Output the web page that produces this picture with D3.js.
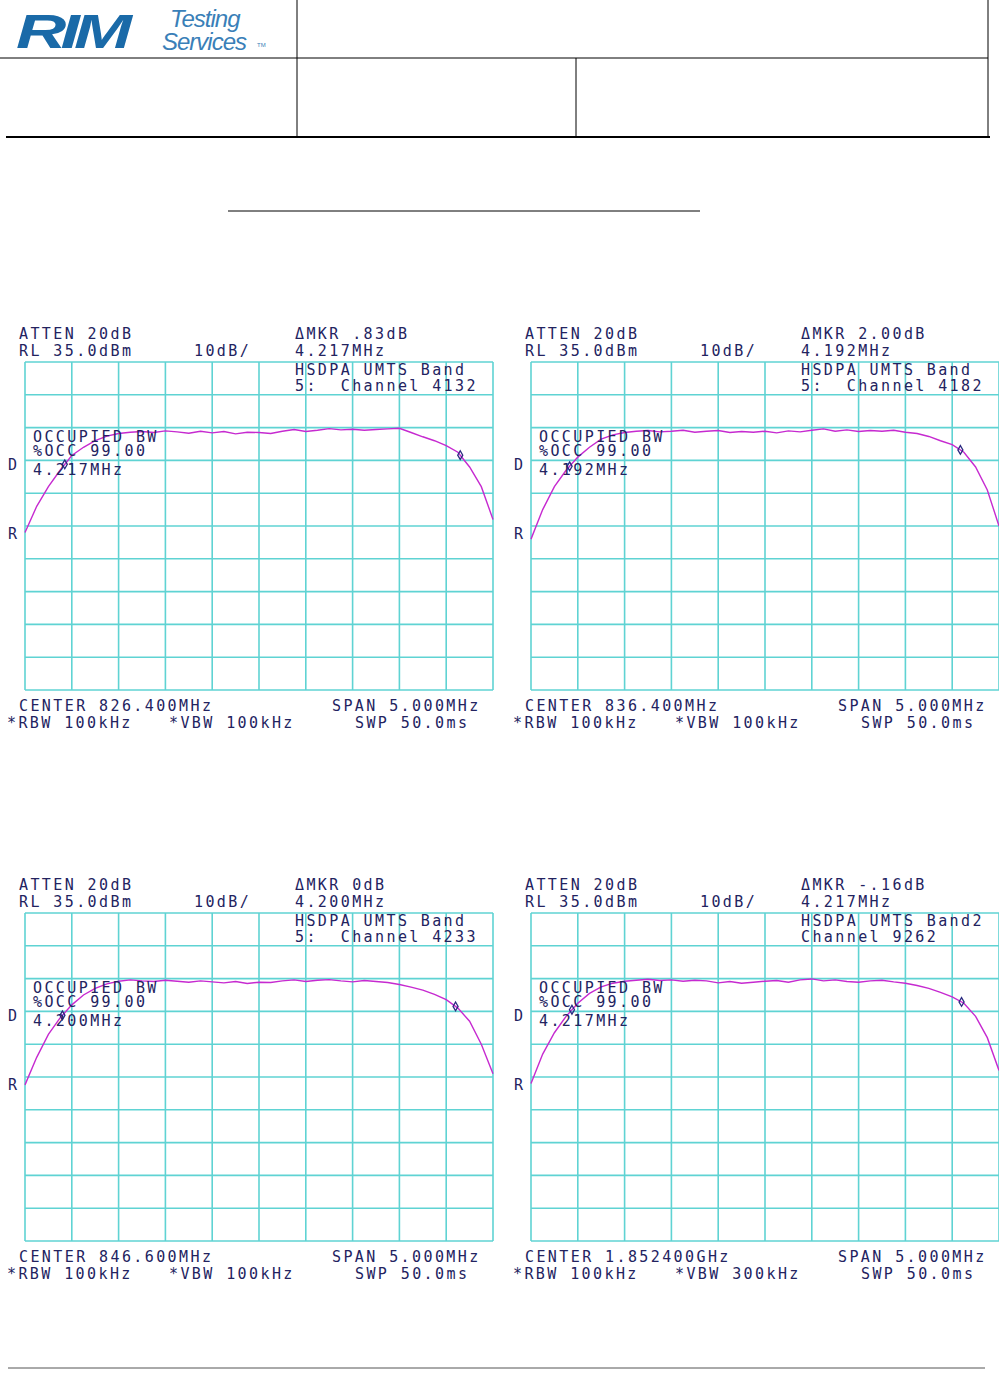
<!DOCTYPE html>
<html><head><meta charset="utf-8">
<script src="https://d3js.org/d3.v7.min.js"></script>
<style>body{margin:0;background:#fff}</style>
</head><body>
<svg width="999" height="1393"></svg>
<script>
// trace levels in dBm, sampled every quarter division across the 5 MHz span
var trace1 = [-17,-9,-3,2,6.5,9,11,12.4,13.2,13.6,13.8,13.5,14,13.7,13.3,13.9,13.4,13.8,13.1,13.6,13.5,13.2,13.9,14.4,13.8,14.2,14.7,14.3,14.5,14.2,14.4,14.6,14.8,13.5,12.2,11,9.5,7.5,3,-3,-13];
var trace2 = [-19,-10,-3,2,6,9,11.5,12.8,13.5,13.9,14.1,13.7,13.9,14.2,13.6,13.9,14.1,13.5,13.8,13.6,13.9,13.4,14,13.7,14.2,14.6,13.9,14.3,13.8,14.1,13.9,14.2,13.6,13.2,12.3,11,9.8,7.5,3,-4,-15];
var trace3 = [-17.4,-9,-2,3,7,10,12,13.4,14.2,14.6,14.3,14.1,14.5,14.2,13.9,14.3,14,13.7,14.1,13.5,13.9,13.8,14.3,14.6,14.1,14.5,14.7,14.3,14,14.4,14.1,13.8,13.2,12.4,11.5,10.2,8.6,6,2,-5,-14];
var trace4 = [-17,-8,-1.5,3.5,7.5,10.5,12.5,13.6,14.2,14.5,14.8,14.4,14.6,14.2,14.5,14.3,13.7,14.1,13.6,13.9,14.2,14.4,13.9,14.6,14.9,14.3,14.6,14.1,13.9,14.3,14.5,14,13.6,12.9,12,10.8,9.4,7.5,3.5,-3,-13];
var markers = [[3.4,37.2],[3.3,36.7],[3.2,36.8],[3.5,36.8]];

var centers = ["CENTER 826.400MHz","CENTER 836.400MHz","CENTER 846.600MHz","CENTER 1.852400GHz"];
var mkrDb = ["\u0394MKR .83dB","\u0394MKR 2.00dB","\u0394MKR 0dB","\u0394MKR -.16dB"];
var mkrHz = ["4.217MHz","4.192MHz","4.200MHz","4.217MHz"];
var obw = ["4.217MHz","4.192MHz","4.200MHz","4.217MHz"];
var label1 = ["HSDPA UMTS Band","HSDPA UMTS Band","HSDPA UMTS Band","HSDPA UMTS Band2"];
var label2 = ["5:  Channel 4132","5:  Channel 4182","5:  Channel 4233","Channel 9262"];
var vbw = ["*VBW 100kHz","*VBW 100kHz","*VBW 100kHz","*VBW 300kHz"];
var traces = [trace1, trace2, trace3, trace4];

var svg = d3.select("svg");
var ink = "#23235f";

// header table
var hdr = svg.append("g").attr("stroke", "#000").attr("fill", "none");
hdr.append("line").attr("x1", 297).attr("x2", 297).attr("y1", 0).attr("y2", 136);
hdr.append("line").attr("x1", 988).attr("x2", 988).attr("y1", 0).attr("y2", 136);
hdr.append("line").attr("x1", 0).attr("x2", 988).attr("y1", 58).attr("y2", 58);
hdr.append("line").attr("x1", 576).attr("x2", 576).attr("y1", 58).attr("y2", 136);
hdr.append("line").attr("x1", 6).attr("x2", 990).attr("y1", 137).attr("y2", 137).attr("stroke-width", 2);
hdr.append("line").attr("x1", 228).attr("x2", 700).attr("y1", 211).attr("y2", 211);
hdr.append("line").attr("x1", 8).attr("x2", 985).attr("y1", 1368).attr("y2", 1368).attr("stroke", "#555");

// logo
svg.append("text").attr("transform", "translate(16,48) scale(1.45,1)").attr("font-family", "Liberation Sans")
  .attr("font-size", 48).attr("font-weight", "bold").attr("font-style", "italic")
  .attr("fill", "#1a6aa8").attr("letter-spacing", -4).text("RIM");
svg.append("text").attr("x", 170).attr("y", 27).attr("font-family", "Liberation Sans")
  .attr("font-size", 24).attr("font-style", "italic").attr("fill", "#3a7fb8").attr("letter-spacing", -1).text("Testing");
svg.append("text").attr("x", 162).attr("y", 50).attr("font-family", "Liberation Sans")
  .attr("font-size", 24).attr("font-style", "italic").attr("fill", "#3a7fb8").attr("letter-spacing", -1).text("Services");
svg.append("text").attr("x", 257).attr("y", 47).attr("font-family", "Liberation Sans")
  .attr("font-size", 6).attr("fill", "#3a7fb8").text("TM");

var W = 468, H = 328;
var origins = [[25, 362], [531, 362], [25, 913], [531, 913]];

origins.forEach(function(o, p) {
  var L = o[0], T = o[1];
  var x = d3.scaleLinear().domain([0, 40]).range([L, L + W]);
  var y = d3.scaleLinear().domain([35, -65]).range([T, T + H]);
  var g = svg.append("g");

  var grid = g.append("g").attr("stroke", "#5fd3d3").attr("stroke-width", 1.6);
  d3.range(0, 41, 4).forEach(function(i) {
    grid.append("line").attr("x1", x(i)).attr("x2", x(i)).attr("y1", y(35)).attr("y2", y(-65));
  });
  d3.range(35, -66, -10).forEach(function(v) {
    grid.append("line").attr("x1", x(0)).attr("x2", x(40)).attr("y1", y(v)).attr("y2", y(v));
  });

  var data = traces[p];
  var line = d3.line().x(function(d, i) { return x(i); }).y(function(d) { return y(d); });
  g.append("path").datum(data).attr("d", line).attr("fill", "none")
    .attr("stroke", "#c62ad0").attr("stroke-width", 1.4);

  markers[p].forEach(function(m) {
    var i = Math.floor(m), f = m - i;
    var v = data[i] + (data[i + 1] - data[i]) * f;
    g.append("path").attr("d", d3.symbol(d3.symbolDiamond, 22)())
      .attr("transform", "translate(" + x(m) + "," + y(v) + ")")
      .attr("fill", "none").attr("stroke", "#2a2a80").attr("stroke-width", 1.3);
  });

  var t = g.append("g").attr("font-family", "DejaVu Sans Mono").attr("font-size", 15)
    .attr("letter-spacing", 2.4).attr("fill", ink);
  function txt(dx, dy, s) { t.append("text").attr("x", L + dx).attr("y", T + dy).attr("xml:space", "preserve").text(s); }
  txt(-6, -23, "ATTEN 20dB");
  txt(-6, -6, "RL 35.0dBm");
  txt(169, -6, "10dB/");
  txt(270, -23, mkrDb[p]);
  txt(270, -6, mkrHz[p]);
  txt(270, 13, label1[p]);
  txt(270, 29, label2[p]);
  txt(8, 80, "OCCUPIED BW");
  txt(8, 94, "%OCC 99.00");
  txt(8, 113, obw[p]);
  txt(-17, 108, "D");
  txt(-17, 177, "R");
  txt(-6, 349, centers[p]);
  txt(307, 349, "SPAN 5.000MHz");
  txt(-18, 366, "*RBW 100kHz");
  txt(144, 366, vbw[p]);
  txt(330, 366, "SWP 50.0ms");
});
</script>
</body></html>
